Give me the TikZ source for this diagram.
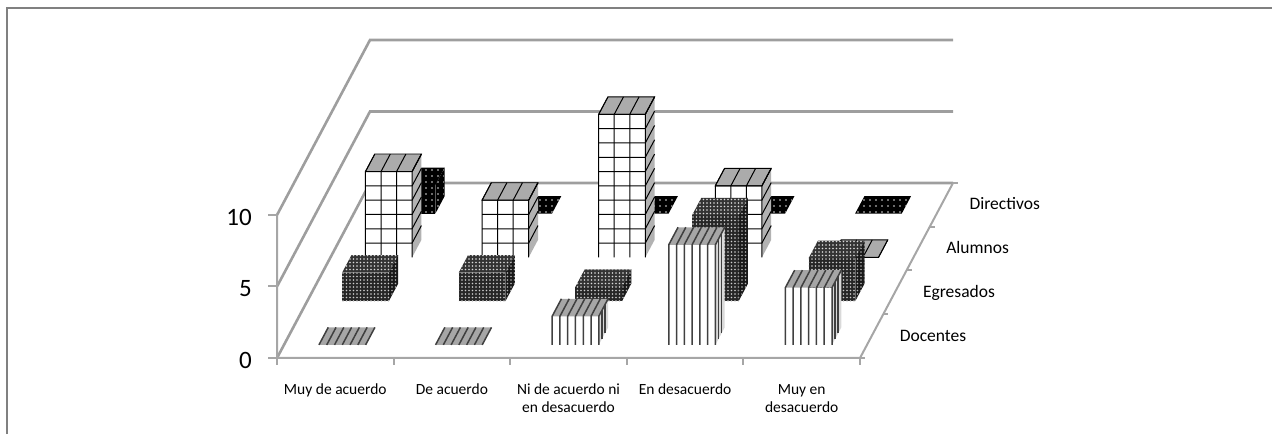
\documentclass[tikz,border=0pt]{standalone}
\usepackage{fontspec}
\setmainfont{Carlito}
\usetikzlibrary{patterns.meta}

\tikzset{
  frame line/.style={draw=black!50, line width=1.4pt},
  wall line/.style={draw=black!38, line width=2.6pt},
  axis line/.style={draw=black!35, line width=2pt},
  ticklabel/.style={anchor=east, xshift=-25pt, yshift=-2pt, inner sep=0pt, font=\fontsize{25}{30}\selectfont},
  catlabel/.style={anchor=north, yshift=-26pt, inner sep=0pt, align=center, font=\fontsize{15.5}{18}\selectfont},
  serlabel/.style={anchor=mid west, xshift=28pt, yshift=-2.5pt, inner sep=0pt, font=\fontsize{17.5}{20}\selectfont},
  % Docentes: vertical stripes
  doc front/.style={fill=white},
  doc side/.style={fill=black!15},
  doc top/.style={fill=black!35},
  doc stripe/.style={draw=black!75, line width=1.5pt},
  % Egresados: dark dotted
  egr front/.style={preaction={fill=black!85}, pattern={Dots[distance=3.5pt, radius=0.8pt]}, pattern color=black!20},
  egr side/.style={preaction={fill=black!90}, pattern={Dots[distance=3.5pt, radius=0.8pt]}, pattern color=black!30},
  egr top/.style={preaction={fill=black!80}, pattern={Dots[distance=3.5pt, radius=0.8pt]}, pattern color=black!15},
  % Alumnos: large grid
  alu front/.style={fill=white},
  alu side/.style={fill=black!30},
  alu top/.style={fill=black!33, draw=black, line width=0.8pt},
  alu line/.style={draw=black, line width=1pt},
  % Directivos: black with sparse dots
  dir front/.style={preaction={fill=black}, pattern={Dots[distance=6pt, radius=0.8pt]}, pattern color=black!15},
  dir side/.style={dir front},
  dir top/.style={dir front},
}

% one 3D bar: category index, row, value, series
\newcommand{\drawbar}[4]{%
  \pgfmathsetmacro{\xl}{#1+0.3}%
  \pgfmathsetmacro{\xr}{#1+0.7}%
  \pgfmathsetmacro{\zf}{#2+0.3}%
  \pgfmathsetmacro{\zb}{#2+0.7}%
  \ifnum#3>0
    \path[#4 side] ( \xr, 0, \zf ) -- ( \xr, 0, \zb ) -- ( \xr, #3, \zb ) -- ( \xr, #3, \zf ) -- cycle;
    \path[#4 front] ( \xl, 0, \zf ) -- ( \xr, 0, \zf ) -- ( \xr, #3, \zf ) -- ( \xl, #3, \zf ) -- cycle;
  \fi
  \path[#4 top] ( \xl, #3, \zf ) -- ( \xr, #3, \zf ) -- ( \xr, #3, \zb ) -- ( \xl, #3, \zb ) -- cycle;
  \csname deco#4\endcsname{#3}%
}

\newcommand{\decodoc}[1]{%
  \foreach \t in {0,...,6}
    \draw[doc stripe] ( \xl+\t*0.4/6, 0, \zf ) -- ( \xl+\t*0.4/6, #1, \zf ) -- ( \xl+\t*0.4/6, #1, \zb );
  \foreach \s in {1,2}
    \draw[doc stripe] ( \xr, 0, \zf+\s*0.4/3 ) -- ( \xr, #1, \zf+\s*0.4/3 );
}
\newcommand{\decoalu}[1]{%
  \foreach \t in {0,...,3}
    \draw[alu line] ( \xl+\t*0.4/3, 0, \zf ) -- ( \xl+\t*0.4/3, #1, \zf ) -- ( \xl+\t*0.4/3, #1, \zb );
  \ifnum#1>0
    \foreach \v in {1,...,#1}
      \draw[alu line] ( \xl, \v, \zf ) -- ( \xr, \v, \zf ) -- ( \xr, \v, \zb );
  \fi
}
\newcommand{\decoegr}[1]{}
\newcommand{\decodir}[1]{}

\begin{document}
\begin{tikzpicture}[x=1pt, y=1pt]

\useasboundingbox ( 0, 0 ) rectangle ( 1272, 434 );

% Frame
\draw[frame line] ( 7, 0 ) -- ( 7, 426 ) -- ( 1272, 426 );

\begin{scope}[shift={( 277pt, 76pt )}, x={( 116.6pt, 0pt )}, y={( 0pt, 14.3pt )}, z={( 23.25pt, 43.75pt )}]

% Walls
\foreach \v in {0,5,10}
  \draw[wall line] ( 0, \v, 0 ) -- ( 0, \v, 4 ) -- ( 5, \v, 4 );

% Axes
\draw[axis line] ( 0, 10, 0 ) -- ( 0, 0, 0 ) -- ( 5, 0, 0 ) -- ( 5, 0, 4 );
\foreach \v in {0,5,10}
  \draw[axis line] ( 0, \v, 0 ) -- ++( -9pt, 0pt );
\foreach \c in {0,...,5}
  \draw[axis line] ( \c, 0, 0 ) -- ++( 0pt, -7pt );
\foreach \d in {0,...,4}
  \draw[axis line] ( 5, 0, \d ) -- ++( 5pt, 0pt );

% Bars, back row first
\foreach \val [count=\k from 0] in {2,0,0,0,0}
  \drawbar{\k}{3}{\val}{dir};
\foreach \val [count=\k from 0] in {6,4,10,5,0}
  \drawbar{\k}{2}{\val}{alu};
\foreach \val [count=\k from 0] in {2,2,1,6,3}
  \drawbar{\k}{1}{\val}{egr};
\foreach \val [count=\k from 0] in {0,0,2,7,4}
  \drawbar{\k}{0}{\val}{doc};

% Labels
\node (v0) at ( 0, 0, 0 ) [ticklabel] {0};
\node (v5) at ( 0, 5, 0 ) [ticklabel] {5};
\node (v10) at ( 0, 10, 0 ) [ticklabel] {10};

\node (cat1) at ( 0.5, 0, 0 ) [catlabel] {Muy de acuerdo};
\node (cat2) at ( 1.5, 0, 0 ) [catlabel] {De acuerdo};
\node (cat3) at ( 2.5, 0, 0 ) [catlabel] {Ni de acuerdo ni\\en desacuerdo};
\node (cat4) at ( 3.5, 0, 0 ) [catlabel] {En desacuerdo};
\node (cat5) at ( 4.5, 0, 0 ) [catlabel] {Muy en\\desacuerdo};

\node (doc) at ( 5, 0, 0.5 ) [serlabel] {Docentes};
\node (egr) at ( 5, 0, 1.5 ) [serlabel] {Egresados};
\node (alu) at ( 5, 0, 2.5 ) [serlabel] {Alumnos};
\node (dir) at ( 5, 0, 3.5 ) [serlabel] {Directivos};

\end{scope}

\end{tikzpicture}
\end{document}
